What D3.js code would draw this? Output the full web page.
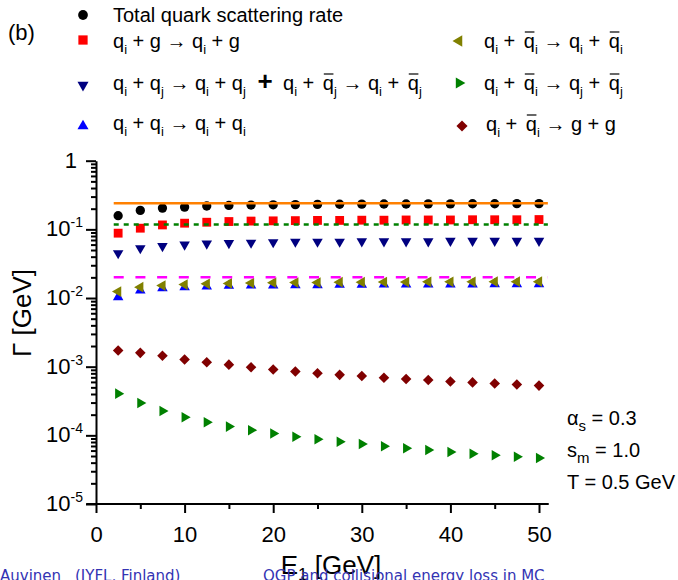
<html>
<head>
<style>
body { margin: 0; background: #fff; }
svg { display: block; }
text { font-family: "Liberation Sans", Arial, sans-serif; white-space: pre; fill: #000; }
</style>
</head>
<body>
<svg id="chart" width="678" height="580"></svg>
<script src="https://cdn.jsdelivr.net/npm/d3@7"></script>
<script>
// E1 in GeV
var energies = [2.5, 5, 7.5, 10, 12.5, 15, 17.5, 20, 22.5, 25, 27.5, 30, 32.5, 35, 37.5, 40, 42.5, 45, 47.5, 50];

// rates in GeV
var totalRate = [0.158, 0.189, 0.204, 0.211, 0.219, 0.223, 0.226, 0.228, 0.229, 0.231, 0.232, 0.233, 0.234, 0.234, 0.235, 0.235, 0.236, 0.236, 0.237, 0.237];
var qgRate    = [0.088, 0.104, 0.116, 0.123, 0.127, 0.130, 0.132, 0.133, 0.134, 0.135, 0.135, 0.136, 0.136, 0.137, 0.137, 0.137, 0.138, 0.138, 0.138, 0.139];
var qqRate    = [0.045, 0.053, 0.057, 0.060, 0.062, 0.063, 0.064, 0.065, 0.066, 0.066, 0.066, 0.067, 0.067, 0.067, 0.067, 0.068, 0.068, 0.068, 0.068, 0.068];
var qiqiRate  = [0.0103, 0.0129, 0.0139, 0.0144, 0.0147, 0.0151, 0.0152, 0.0152, 0.0154, 0.0154, 0.0156, 0.0156, 0.0157, 0.0157, 0.0158, 0.0158, 0.0158, 0.0159, 0.0159, 0.0159];
var qqbarRate = [0.0124, 0.0144, 0.0152, 0.0157, 0.0161, 0.0163, 0.0165, 0.0167, 0.0168, 0.0168, 0.0170, 0.0170, 0.0171, 0.0171, 0.0172, 0.0172, 0.0172, 0.0173, 0.0173, 0.0173];
var annihQRate = [0.000405, 0.000296, 0.000227, 0.000184, 0.000155, 0.000134, 0.000119, 0.000106, 0.0000957, 0.0000877, 0.0000809, 0.0000749, 0.0000694, 0.0000649, 0.0000613, 0.0000573, 0.0000541, 0.0000513, 0.0000489, 0.0000468];
var annihGRate = [0.00172, 0.00159, 0.00144, 0.00127, 0.00116, 0.00107, 0.00098, 0.00091, 0.00085, 0.00080, 0.00076, 0.00073, 0.00069, 0.00066, 0.00064, 0.00061, 0.00059, 0.00057, 0.00055, 0.00053];

// horizontal reference levels
var flatLevels = [0.24, 0.118, 0.02];
var flatRange = [2, 51];

var xTicks = [0, 10, 20, 30, 40, 50];
var xMinorTicks = [5, 15, 25, 35, 45];
var xTickLabels = ['0', '10', '20', '30', '40', '50'];
var yTicks = [1e-5, 1e-4, 1e-3, 1e-2, 1e-1, 1];
var yTickLabels = [['10', '-5'], ['10', '-4'], ['10', '-3'], ['10', '-2'], ['10', '-1'], ['1', '']];

var legendLabels = [
	'Total quark scattering rate',
	'q_i + g \u2192 q_i + g',
	'q_i + q_j \u2192 q_i + q_j',
	'q_i + ~q_j \u2192 q_i + ~q_j',
	'q_i + q_i \u2192 q_i + q_i',
	'q_i + ~q_i \u2192 q_i + ~q_i',
	'q_i + ~q_i \u2192 q_j + ~q_j',
	'q_i + ~q_i \u2192 g + g'
];

var svg = d3.select('#chart');

var x = d3.scaleLinear().domain([0, 50]).range([96, 539]);
var y = d3.scaleLog().domain([1e-5, 1]).range([504, 160.7]);

// writes a label with _x subscripts and ~x (anti-quark) letters
function rich(t, str) {
	var buf = '', dy = 0, bars = [];
	function add(s) {
		var ts = t.append('tspan').text(s);
		if (dy) { ts.attr('dy', dy); dy = 0; }
		return ts;
	}
	function flush() { if (buf) { add(buf); buf = ''; } }
	for (var i = 0; i < str.length; i++) {
		var c = str[i];
		if (c === '_') {
			flush();
			add(str[i + 1]).attr('dy', 6).attr('font-size', 13);
			dy = -6;
			i++;
		} else if (c === '~') {
			flush();
			bars.push(add(str[i + 1]).attr('dx', 3));
			i++;
		} else {
			buf += c;
		}
	}
	flush();
	// bar over the anti-quark
	var ty = +t.attr('y');
	bars.forEach(function(b) {
		var n = b.node();
		var a = n.getStartPositionOfChar(0).x;
		var e = n.getEndPositionOfChar(0).x;
		svg.append('line')
			.attr('x1', a + 1).attr('x2', e - 0.5)
			.attr('y1', ty - 16).attr('y2', ty - 16)
			.attr('stroke', '#000').attr('stroke-width', 1.2);
	});
}

// ---- axes
var gx = svg.append('g').attr('transform', 'translate(0,504)');
gx.call(d3.axisBottom(x).tickValues(xTicks).tickSize(9).tickPadding(13)
	.tickFormat(function(d, i) { return xTickLabels[i]; }));
gx.append('g').call(d3.axisBottom(x).tickValues(xMinorTicks).tickSize(5).tickFormat(''));
gx.selectAll('.domain').remove();
gx.selectAll('.tick line').attr('stroke', '#000').attr('stroke-width', 2);
gx.selectAll('.tick text').attr('font-size', 22).attr('font-family', '"Liberation Sans", Arial, sans-serif').attr('fill', '#000');
gx.append('line')
	.attr('x1', x(-1.1)).attr('x2', x(51.1))
	.attr('stroke', '#000').attr('stroke-width', 2);

var yMinor = [];
yTicks.slice(0, -1).forEach(function(d) {
	for (var k = 2; k <= 9; k++) yMinor.push(d * k);
});

var gy = svg.append('g').attr('transform', 'translate(96,0)');
gy.call(d3.axisLeft(y).tickValues(yTicks).tickSize(10).tickSizeOuter(0).tickFormat(''));
gy.append('g').call(d3.axisLeft(y).tickValues(yMinor).tickSize(5).tickSizeOuter(0).tickFormat(''))
	.select('.domain').remove();
gy.selectAll('.domain').attr('stroke', '#000').attr('stroke-width', 2);
gy.selectAll('.tick line').attr('stroke', '#000').attr('stroke-width', 2);

yTicks.forEach(function(d, i) {
	var lab = yTickLabels[i];
	var t = svg.append('text')
		.attr('x', lab[1] ? 83 : 77)
		.attr('y', y(d) + 7)
		.attr('text-anchor', 'end')
		.attr('font-size', 22);
	t.append('tspan').text(lab[0]);
	if (lab[1]) t.append('tspan').attr('dy', -9).attr('font-size', 14).text(lab[1]);
});

svg.append('text')
	.attr('transform', 'translate(31,313) rotate(-90)')
	.attr('text-anchor', 'middle')
	.attr('font-size', 26)
	.text('\u0393 [GeV]');

var xl = svg.append('text')
	.attr('x', 331).attr('y', 574)
	.attr('text-anchor', 'middle')
	.attr('font-size', 26);
xl.append('tspan').text('E');
xl.append('tspan').attr('dy', 6).attr('font-size', 17).text('1');
xl.append('tspan').attr('dy', -6).text(' [GeV]');

// ---- series
var series = [
	{ v: totalRate,  type: d3.symbolCircle,   size: 68, rot: 0,   color: '#000000' },
	{ v: qgRate,     type: d3.symbolSquare,   size: 78, rot: 0,   color: '#ff0000' },
	{ v: qqRate,     type: d3.symbolTriangle, size: 48, rot: 180, color: '#000080' },
	{ v: qiqiRate,   type: d3.symbolTriangle, size: 48, rot: 0,   color: '#0000ff' },
	{ v: qqbarRate,  type: d3.symbolTriangle, size: 50, rot: -90, color: '#808000' },
	{ v: annihQRate, type: d3.symbolTriangle, size: 48, rot: 90,  color: '#008000' },
	{ v: annihGRate, type: d3.symbolSquare,   size: 56, rot: 45,  color: '#800000' }
];

series.forEach(function(s) {
	svg.append('g').selectAll('path')
		.data(s.v)
		.enter()
		.append('path')
		.attr('d', d3.symbol().type(s.type).size(s.size))
		.attr('fill', s.color)
		.attr('transform', function(d, i) {
			return 'translate(' + x(energies[i]) + ',' + y(d) + ') rotate(' + s.rot + ')';
		});
});

var flatStyles = [
	{ color: '#ff8000', dash: null,   width: 2.5 },
	{ color: '#008000', dash: '5,5',  width: 2.5 },
	{ color: '#ff00ff', dash: '10,11.7', width: 2.5 }
];
flatLevels.forEach(function(d, i) {
	svg.append('line')
		.attr('x1', x(flatRange[0])).attr('x2', x(flatRange[1]))
		.attr('y1', y(d)).attr('y2', y(d))
		.attr('stroke', flatStyles[i].color)
		.attr('stroke-width', flatStyles[i].width)
		.attr('stroke-dasharray', flatStyles[i].dash);
});

// ---- legend
var legendPos = [
	{ mx: 83,  my: 15,  tx: 113, ty: 22 },
	{ mx: 83,  my: 40,  tx: 113, ty: 48 },
	{ mx: 83,  my: 85,  tx: 113, ty: 90 },
	{ mx: null, my: null, tx: 283, ty: 90 },
	{ mx: 83,  my: 126, tx: 113, ty: 130 },
	{ mx: 459, my: 41,  tx: 484, ty: 48 },
	{ mx: 459, my: 83,  tx: 484, ty: 90 },
	{ mx: 462, my: 126, tx: 486, ty: 131 }
];
var legendSeries = [0, 1, 2, null, 3, 4, 5, 6];

legendLabels.forEach(function(lab, i) {
	var p = legendPos[i];
	var si = legendSeries[i];
	if (si !== null) {
		var s = series[si];
		svg.append('path')
			.attr('d', d3.symbol().type(s.type).size(s.size * 1.1))
			.attr('fill', s.color)
			.attr('transform', 'translate(' + p.mx + ',' + p.my + ') rotate(' + s.rot + ')');
	}
	var t = svg.append('text').attr('x', p.tx).attr('y', p.ty).attr('font-size', 20);
	rich(t, lab);
});

svg.append('text')
	.attr('x', 265).attr('y', 90)
	.attr('text-anchor', 'middle')
	.attr('font-size', 26).attr('font-weight', 'bold')
	.text('+');

svg.append('text').attr('x', 8).attr('y', 40).attr('font-size', 22).text('(b)');

// ---- parameters
var params = [['\u03b1', 's', ' = 0.3'], ['s', 'm', ' = 1.0'], ['T', '', ' = 0.5 GeV']];
params.forEach(function(p, i) {
	var t = svg.append('text').attr('x', 567).attr('y', 425 + i * 32).attr('font-size', 20);
	t.append('tspan').text(p[0]);
	if (p[1]) {
		t.append('tspan').attr('dy', 6).attr('font-size', 15).text(p[1]);
		t.append('tspan').attr('dy', -6).text(p[2]);
	} else {
		t.append('tspan').text(p[2]);
	}
});

// ---- slide footer
var footerTexts = [[0, 'Auvinen'], [75, '(JYFL, Finland)'], [263, 'QGP and collisional energy loss in MC']];
footerTexts.forEach(function(f) {
	svg.append('text')
		.attr('x', f[0]).attr('y', 581)
		.style('fill', '#3333b3')
		.style('font-family', '"DejaVu Sans", sans-serif')
		.style('font-size', '15px')
		.text(f[1]);
});
</script>
</body>
</html>
